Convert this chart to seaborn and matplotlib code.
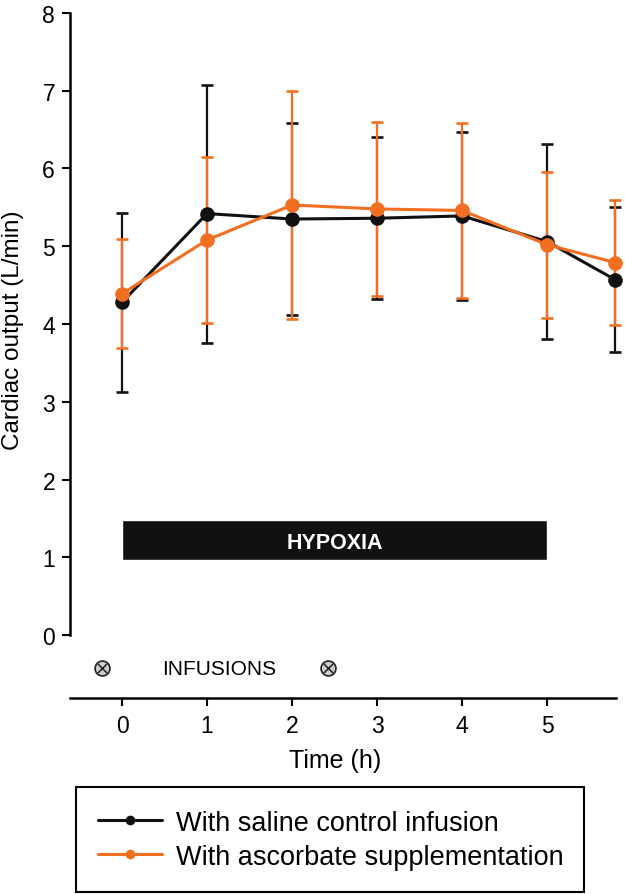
import numpy as np
import pandas as pd
import matplotlib
matplotlib.use("Agg")
import matplotlib.pyplot as plt
import seaborn as sns
from matplotlib.lines import Line2D

# ---- data ----
time_h = [0, 1, 2, 3, 4, 5, 5.8]
saline_mean = [4.28, 5.42, 5.35, 5.36, 5.39, 5.06, 4.57]
saline_sd = [1.15, 1.66, 1.24, 1.04, 1.08, 1.25, 0.93]
ascorbate_mean = [4.39, 5.08, 5.53, 5.48, 5.46, 5.02, 4.79]
ascorbate_sd = [0.70, 1.07, 1.47, 1.12, 1.13, 0.94, 0.80]
groups = ["With saline control infusion", "With ascorbate supplementation"]
colors = ["#111111", "#F26F21"]
y_ticks = [0, 1, 2, 3, 4, 5, 6, 7, 8]
x_ticks = [0, 1, 2, 3, 4, 5]
hypoxia_start, hypoxia_end = 0, 5
hypoxia_low, hypoxia_high = 0.97, 1.48
hypoxia_label = "HYPOXIA"
infusion_times = [-0.23, 2.42]
infusion_level = -0.43
infusion_label = "INFUSIONS"
infusion_label_x = 1.14

df = pd.concat([
    pd.DataFrame({"time": time_h, "mean": saline_mean, "sd": saline_sd, "group": groups[0]}),
    pd.DataFrame({"time": time_h, "mean": ascorbate_mean, "sd": ascorbate_sd, "group": groups[1]}),
], ignore_index=True)

sns.set_theme(style="ticks")
plt.rcParams["font.family"] = ["Liberation Sans", "DejaVu Sans"]
plt.rcParams["text.color"] = "black"
plt.rcParams["axes.labelcolor"] = "black"
plt.rcParams["xtick.color"] = "black"
plt.rcParams["ytick.color"] = "black"
plt.rcParams["axes.edgecolor"] = "black"

fig = plt.figure(figsize=(6.25, 8.95), dpi=100)
ax = fig.add_axes([0.112, 0.2193, 0.8736, 0.7651])

for i, (g, c) in enumerate(zip(groups, colors)):
    sub = df[df["group"] == g]
    ax.errorbar(sub["time"], sub["mean"], yerr=sub["sd"], fmt="none", ecolor=c,
                elinewidth=1.6, capsize=4.3, capthick=1.9, zorder=2 + i * 0.5, clip_on=False)
    sns.lineplot(data=sub, x="time", y="mean", color=c, marker="o", markersize=10.5,
                 markeredgewidth=0, linewidth=2.2, ax=ax, zorder=3 + i * 0.5,
                 legend=False, errorbar=None, clip_on=False)

# hypoxia bar
ax.barh((hypoxia_low + hypoxia_high) / 2, hypoxia_end - hypoxia_start, left=hypoxia_start,
        height=hypoxia_high - hypoxia_low, color="#111111", zorder=1)
ax.text((hypoxia_start + hypoxia_end) / 2, (hypoxia_low + hypoxia_high) / 2 - 0.03, hypoxia_label,
        color="white", fontsize=15.5, fontweight="bold", ha="center", va="center", zorder=2)

# infusions
ax.scatter(infusion_times, [infusion_level] * len(infusion_times), s=115, marker="o",
           facecolor="#c9cdcd", edgecolor="#222222", linewidth=1.2, zorder=3, clip_on=False)
ax.scatter(infusion_times, [infusion_level] * len(infusion_times), s=45, marker="x",
           color="#222222", linewidth=1.1, zorder=4, clip_on=False)
ax.text(infusion_label_x, infusion_level, infusion_label, fontsize=15, ha="center", va="center")

ax.set_xlim(-0.612, 5.81)
ax.set_ylim(-0.806, 8)
ax.set_xticks(x_ticks)
ax.set_yticks(y_ticks)
ax.set_xticklabels([str(t) for t in x_ticks])
ax.set_yticklabels([str(t) for t in y_ticks])
sns.despine(ax=ax)
ax.spines["left"].set_bounds(0, 8)
for s in ("left", "bottom"):
    ax.spines[s].set_linewidth(1.8)
ax.tick_params(axis="both", direction="out", length=5.8, width=1.5, labelsize=16.5, colors="black")
ax.tick_params(axis="x", pad=6)
ax.tick_params(axis="y", pad=5)

ax.set_xlabel("Time (h)", fontsize=18)
ax.xaxis.set_label_coords(0.485, -0.091)
ax.xaxis.label.set_va("center")
ax.set_ylabel("Cardiac output (L/min)", fontsize=17.5)
ax.yaxis.set_label_coords(-0.104, 0.538)
ax.yaxis.label.set_va("center")

handles = [Line2D([0], [0], color=c, lw=2.2, marker="o", markersize=7, markeredgewidth=0)
           for c in colors]
leg = fig.legend(handles, groups, loc="lower left",
                 bbox_to_anchor=(76 / 625, 2 / 895, 508 / 625, 101 / 895), mode="expand",
                 borderaxespad=0, fontsize=19.5, frameon=True, fancybox=False,
                 edgecolor="black", framealpha=1, handlelength=2.37, handletextpad=0.5,
                 borderpad=0.82, labelspacing=0.3)
leg.get_frame().set_linewidth(1.5)

fig.savefig("out.png", dpi=100)
